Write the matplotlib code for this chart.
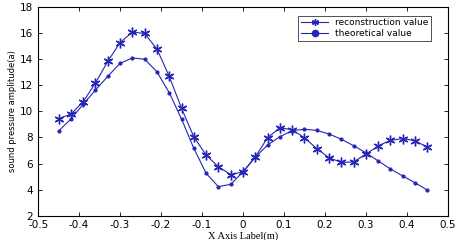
import numpy as np
import matplotlib.pyplot as plt

# positions along the axis (m)
x_pos = [-0.45, -0.42, -0.39, -0.36, -0.33, -0.30, -0.27, -0.24, -0.21, -0.18,
         -0.15, -0.12, -0.09, -0.06, -0.03, 0.00, 0.03, 0.06, 0.09, 0.12,
         0.15, 0.18, 0.21, 0.24, 0.27, 0.30, 0.33, 0.36, 0.39, 0.42, 0.45]

recon = [9.45, 9.8, 10.75, 12.2, 13.85, 15.3, 16.1, 16.0, 14.8, 12.7,
         10.25, 8.05, 6.65, 5.75, 5.15, 5.35, 6.5, 7.98, 8.75, 8.6,
         7.98, 7.15, 6.45, 6.08, 6.12, 6.72, 7.35, 7.78, 7.92, 7.75, 7.25]

theory = [8.5, 9.42, 10.55, 11.65, 12.7, 13.7, 14.12, 14.02, 13.05, 11.45,
          9.42, 7.17, 5.25, 4.22, 4.4, 5.35, 6.48, 7.42, 8.06, 8.53,
          8.63, 8.55, 8.27, 7.87, 7.37, 6.83, 6.2, 5.58, 5.04, 4.52, 3.96]

line_color = '#2626b4'

fig = plt.figure(figsize=(4.65, 2.4), dpi=100)
ax = fig.add_axes([0.082, 0.102, 0.881, 0.867])

# MATLAB style asterisk marker
ax.plot(x_pos, recon, color=line_color, linewidth=0.8, marker=(6, 2, 0),
        markersize=7, markeredgewidth=1.0, label='reconstruction value')
ax.plot(x_pos, theory, color=line_color, linewidth=0.8, marker='.',
        markersize=4, label='theoretical value')

ax.set_xlim(-0.5, 0.5)
ax.set_ylim(2, 18)
ax.set_xticks(np.arange(-0.5, 0.51, 0.1))
ax.set_xticklabels(['-0.5', '-0.4', '-0.3', '-0.2', '-0.1', '0',
                    '0.1', '0.2', '0.3', '0.4', '0.5'])
ax.set_yticks(np.arange(2, 19, 2))
ax.tick_params(direction='in', top=True, right=True, length=3, width=0.6,
               labelsize=7.5)
ax.tick_params(axis='x', pad=3)
ax.tick_params(axis='y', pad=4)
for s in ax.spines.values():
    s.set_linewidth(0.8)

ax.set_xlabel('X Axis Label(m)', family='Liberation Serif', fontsize=7.5, labelpad=1)
ax.set_ylabel('sound pressure amplitude(a)', fontsize=6, labelpad=2)

leg = ax.legend(loc='upper right', fontsize=6.5, frameon=True, fancybox=False,
                edgecolor='black', borderpad=0.3, handlelength=3,
                labelspacing=0.2, borderaxespad=0.0,
                bbox_to_anchor=(0.96, 0.96))
leg.get_frame().set_linewidth(0.6)
leg.legend_handles[0].set_markersize(5)
leg.legend_handles[1].set_markersize(9)

fig.savefig('out.png', dpi=100)
